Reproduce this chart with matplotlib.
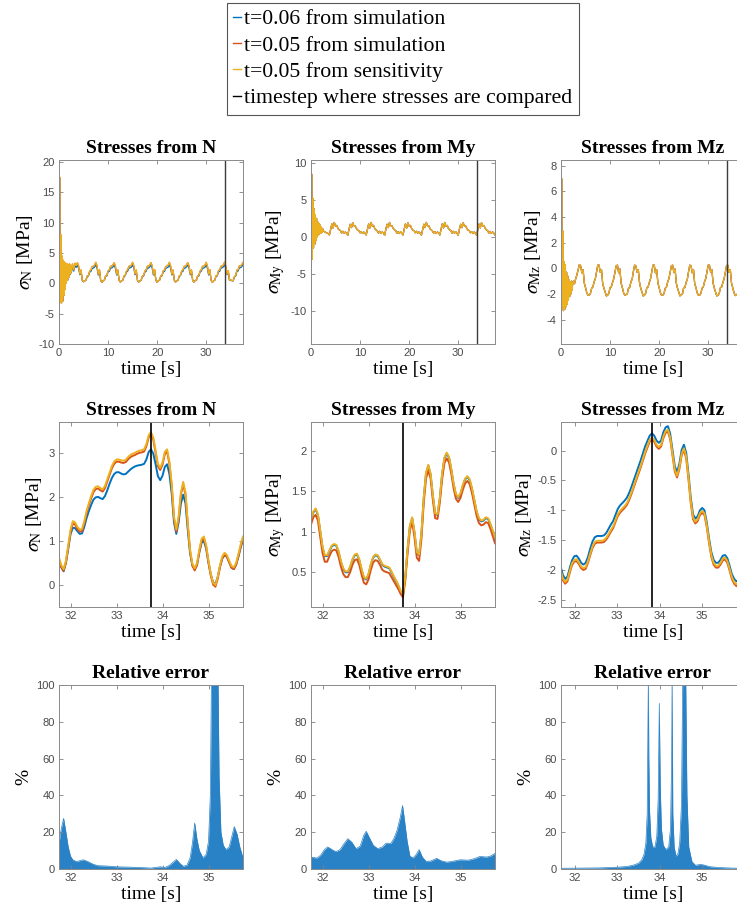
import numpy as np
import matplotlib.pyplot as plt
from matplotlib.lines import Line2D

plt.rcParams['mathtext.fontset'] = 'stix'
plt.rcParams['axes.unicode_minus'] = False

SERIF = 'Liberation Serif'
SANS = 'Liberation Sans'
BLUE = '#0072BD'
ORANGE = '#D95319'
YELLOW = '#EDB120'
BAR_BLUE = '#2a82c6'
T_CMP = 33.75     # timestep where stresses are compared (N, My)
T_CMP_MZ = 33.82

# ---------------- top row: whole simulation (0 .. 37.5 s) ----------------
t_top = np.concatenate([np.arange(0, 2.5, 0.125), np.arange(2.5, 37.51, 0.25)])

n_top_sens = [
    -10.0, 17.5, -3.0, 8.0, -3.3, 4.5, -3.0, 3.8, -2.0, 3.5,
    -1.0, 3.3, 0.0, 3.2, 0.5, 3.0, 1.0, 3.2, 1.5, 3.0,
    1.8, 3.2, 2.2, 3.3, 2.9,
    3.40, 2.85, 1.55, 2.20, 0.50, 0.25, 0.40, 0.55, 1.20, 1.30, 2.00, 2.20, 2.75, 2.80, 3.00,
    3.45, 2.90, 1.50, 2.25, 0.45, 0.15, 0.45, 0.50, 1.25, 1.30, 2.05, 2.20, 2.80, 2.80, 3.05,
    3.40, 2.85, 1.50, 2.20, 0.50, 0.20, 0.40, 0.50, 1.20, 1.35, 2.00, 2.25, 2.80, 2.85, 3.00,
    3.45, 2.90, 1.55, 2.20, 0.45, 0.20, 0.40, 0.55, 1.20, 1.30, 2.00, 2.20, 2.80, 2.80, 3.05,
    3.40, 2.85, 1.50, 2.25, 0.50, 0.15, 0.45, 0.50, 1.25, 1.30, 2.05, 2.20, 2.75, 2.85, 3.00,
    3.45, 2.90, 1.50, 2.20, 0.50, 0.20, 0.40, 0.50, 1.20, 1.35, 2.00, 2.20, 2.80, 2.80, 3.05,
    3.40, 2.90, 1.55, 2.20, 0.45, 0.20, 0.45, 0.55, 1.20, 1.30, 2.00, 2.25, 2.80, 2.80, 3.00,
    3.45, 2.85, 1.50, 2.25, 0.50, 0.15, 0.40, 0.50, 1.25, 1.30, 2.05, 2.20, 2.80, 2.85, 3.05,
    3.47, 2.78, 1.55, 2.10, 0.50, 0.55, 0.45, 0.43, 1.10, 1.27, 2.16, 2.25, 2.85, 2.90, 3.05,
    3.45,
]
n_top_sim06 = [
    -9.8, 17.3, -2.9, 7.8, -3.2, 4.2, -2.9, 3.5, -1.9, 3.2,
    -1.0, 3.0, 0.0, 2.9, 0.5, 2.8, 1.0, 2.9, 1.4, 2.8,
    1.7, 2.9, 2.0, 2.9, 2.6,
    3.00, 2.45, 1.40, 1.95, 0.45, 0.25, 0.40, 0.50, 1.10, 1.20, 1.85, 1.95, 2.45, 2.50, 2.65,
    3.05, 2.50, 1.35, 2.00, 0.45, 0.15, 0.45, 0.50, 1.15, 1.20, 1.90, 1.95, 2.50, 2.50, 2.70,
    3.00, 2.45, 1.35, 1.95, 0.50, 0.20, 0.40, 0.50, 1.10, 1.25, 1.85, 2.00, 2.50, 2.55, 2.65,
    3.05, 2.50, 1.40, 1.95, 0.45, 0.20, 0.40, 0.50, 1.10, 1.20, 1.85, 1.95, 2.50, 2.50, 2.70,
    3.00, 2.45, 1.35, 2.00, 0.50, 0.15, 0.45, 0.50, 1.15, 1.20, 1.90, 1.95, 2.45, 2.55, 2.65,
    3.05, 2.50, 1.35, 1.95, 0.50, 0.20, 0.40, 0.50, 1.10, 1.25, 1.85, 1.95, 2.50, 2.50, 2.70,
    3.00, 2.50, 1.40, 1.95, 0.45, 0.20, 0.45, 0.50, 1.10, 1.20, 1.85, 2.00, 2.50, 2.50, 2.65,
    3.05, 2.45, 1.35, 2.00, 0.50, 0.15, 0.40, 0.50, 1.15, 1.20, 1.90, 1.95, 2.50, 2.55, 2.70,
    3.08, 2.48, 1.42, 1.85, 0.46, 0.50, 0.42, 0.40, 1.03, 1.17, 1.94, 2.02, 2.56, 2.57, 2.72,
    3.08,
]
my_top_sens = [
    -12.0, 8.5, -3.0, 5.2, -1.5, 3.8, -1.0, 3.0, -0.5, 2.5,
    0.0, 2.0, 0.2, 1.8, 0.4, 1.6, 0.5, 1.3, 0.6, 1.1,
    0.8, 0.7, 0.6, 0.5, 0.45,
    0.25, 1.00, 1.75, 1.20, 1.95, 1.45, 1.55, 1.15, 0.95, 0.85, 0.50, 0.75, 0.50, 0.65, 0.50,
    0.23, 1.05, 1.70, 1.25, 1.90, 1.50, 1.50, 1.15, 0.90, 0.85, 0.55, 0.70, 0.45, 0.65, 0.50,
    0.25, 1.00, 1.75, 1.20, 1.95, 1.45, 1.55, 1.10, 0.95, 0.80, 0.50, 0.75, 0.50, 0.65, 0.55,
    0.20, 1.00, 1.70, 1.25, 1.95, 1.50, 1.50, 1.15, 0.95, 0.85, 0.50, 0.70, 0.45, 0.70, 0.50,
    0.25, 1.05, 1.75, 1.20, 1.90, 1.45, 1.55, 1.15, 0.90, 0.85, 0.55, 0.75, 0.50, 0.65, 0.50,
    0.23, 1.00, 1.70, 1.25, 1.95, 1.50, 1.50, 1.10, 0.95, 0.80, 0.50, 0.70, 0.45, 0.65, 0.55,
    0.25, 1.00, 1.75, 1.20, 1.95, 1.45, 1.55, 1.15, 0.95, 0.85, 0.50, 0.75, 0.50, 0.70, 0.50,
    0.20, 1.05, 1.70, 1.25, 1.90, 1.50, 1.50, 1.15, 0.90, 0.85, 0.55, 0.70, 0.45, 0.65, 0.50,
    0.23, 1.00, 1.73, 1.22, 1.93, 1.48, 1.54, 1.15, 0.93, 0.85, 0.51, 0.73, 0.48, 0.66, 0.51,
    0.25,
]
mz_top_sens = [
    -4.8, 7.0, -3.0, 2.9, -3.3, 0.5, -3.2, 0.3, -3.0, -0.3,
    -2.8, -0.6, -2.5, -0.9, -2.2, -1.1, -2.0, -1.0, -1.7, -1.2,
    -1.0, -1.2, -0.8, -0.5, -0.1,
    0.30, 0.20, -0.35, -0.10, -1.15, -1.50, -1.90, -2.10, -2.10, -1.95, -1.55, -1.45, -1.05, -0.80, -0.25,
    0.25, 0.25, -0.30, -0.10, -1.20, -1.55, -1.85, -2.15, -2.10, -1.95, -1.50, -1.45, -1.10, -0.80, -0.30,
    0.20, 0.25, -0.35, -0.05, -1.15, -1.50, -1.90, -2.10, -2.05, -2.00, -1.55, -1.50, -1.05, -0.85, -0.25,
    0.25, 0.20, -0.30, -0.10, -1.10, -1.55, -1.85, -2.15, -2.10, -1.95, -1.50, -1.45, -1.10, -0.80, -0.25,
    0.25, 0.25, -0.35, -0.10, -1.15, -1.50, -1.90, -2.10, -2.10, -1.95, -1.55, -1.45, -1.05, -0.80, -0.30,
    0.20, 0.25, -0.30, -0.05, -1.15, -1.55, -1.85, -2.15, -2.05, -2.00, -1.50, -1.50, -1.10, -0.85, -0.25,
    0.25, 0.20, -0.35, -0.10, -1.20, -1.50, -1.90, -2.10, -2.10, -1.95, -1.55, -1.45, -1.05, -0.80, -0.25,
    0.25, 0.25, -0.30, -0.10, -1.15, -1.55, -1.85, -2.15, -2.10, -1.95, -1.50, -1.45, -1.10, -0.80, -0.30,
    0.22, 0.24, -0.32, -0.10, -1.15, -1.52, -1.88, -2.12, -2.10, -1.97, -1.53, -1.46, -1.07, -0.80, -0.26,
    0.25,
]

# ---------------- middle row: zoom around the compared timestep ----------------
t_mid = np.arange(31.75, 35.751, 0.05)
t_mid_mz = np.linspace(31.66, 35.98, 81)

n_sim06 = [
    0.58, 0.40, 0.31, 0.50, 0.82, 1.15, 1.30, 1.29, 1.22, 1.16,
    1.17, 1.32, 1.52, 1.68, 1.82, 1.94, 1.99, 2.00, 1.97, 1.95,
    2.02, 2.15, 2.30, 2.43, 2.52, 2.56, 2.56, 2.53, 2.51, 2.52,
    2.57, 2.62, 2.66, 2.69, 2.71, 2.72, 2.73, 2.75, 2.85, 3.02,
    3.08, 2.98, 2.74, 2.47, 2.38, 2.48, 2.68, 2.74, 2.52, 2.08,
    1.42, 1.16, 1.42, 1.85, 2.05, 1.85, 1.25, 0.72, 0.44, 0.36,
    0.46, 0.74, 0.96, 1.00, 0.82, 0.50, 0.24, 0.06, 0.02, 0.18,
    0.42, 0.60, 0.68, 0.64, 0.52, 0.40, 0.36, 0.46, 0.64, 0.85,
    1.03,
]
n_sim05 = [
    0.58, 0.41, 0.32, 0.51, 0.85, 1.20, 1.40, 1.37, 1.27, 1.21,
    1.22, 1.40, 1.63, 1.81, 1.97, 2.11, 2.18, 2.19, 2.15, 2.12,
    2.20, 2.35, 2.50, 2.65, 2.75, 2.80, 2.80, 2.78, 2.77, 2.79,
    2.85, 2.90, 2.93, 2.95, 2.98, 3.00, 3.01, 3.03, 3.15, 3.35,
    3.43, 3.30, 3.00, 2.70, 2.61, 2.73, 2.97, 3.03, 2.75, 2.25,
    1.50, 1.21, 1.50, 2.05, 2.29, 2.05, 1.35, 0.76, 0.44, 0.33,
    0.45, 0.75, 1.00, 1.06, 0.86, 0.51, 0.21, 0.01, -0.04, 0.14,
    0.41, 0.61, 0.69, 0.64, 0.51, 0.39, 0.36, 0.46, 0.66, 0.88,
    1.06,
]
n_sens05 = [
    0.62, 0.45, 0.36, 0.55, 0.89, 1.25, 1.45, 1.42, 1.32, 1.26,
    1.27, 1.45, 1.68, 1.86, 2.02, 2.16, 2.23, 2.24, 2.20, 2.17,
    2.25, 2.40, 2.55, 2.70, 2.80, 2.85, 2.85, 2.83, 2.82, 2.84,
    2.90, 2.95, 2.98, 3.00, 3.03, 3.05, 3.06, 3.08, 3.20, 3.40,
    3.47, 3.35, 3.05, 2.75, 2.66, 2.78, 3.02, 3.08, 2.80, 2.30,
    1.55, 1.26, 1.55, 2.10, 2.34, 2.10, 1.40, 0.80, 0.48, 0.38,
    0.50, 0.80, 1.05, 1.10, 0.90, 0.55, 0.25, 0.05, 0.00, 0.18,
    0.45, 0.65, 0.73, 0.68, 0.55, 0.43, 0.40, 0.50, 0.70, 0.92,
    1.10,
]

my_sim06 = [
    1.15, 1.24, 1.28, 1.21, 1.01, 0.81, 0.70, 0.70, 0.76, 0.82,
    0.84, 0.83, 0.75, 0.63, 0.54, 0.50, 0.50, 0.56, 0.65, 0.71,
    0.72, 0.65, 0.53, 0.43, 0.41, 0.47, 0.59, 0.68, 0.71, 0.70,
    0.65, 0.59, 0.57, 0.56, 0.55, 0.50, 0.44, 0.39, 0.33, 0.26,
    0.22, 0.44, 0.79, 1.07, 1.17, 0.99, 0.74, 0.71, 0.97, 1.41,
    1.72, 1.82, 1.71, 1.44, 1.22, 1.21, 1.41, 1.71, 1.91, 1.97,
    1.92, 1.77, 1.59, 1.46, 1.42, 1.47, 1.57, 1.65, 1.68, 1.64,
    1.53, 1.39, 1.25, 1.16, 1.13, 1.14, 1.17, 1.16, 1.09, 1.01,
    0.92,
]
my_sim05 = [
    1.09, 1.18, 1.21, 1.14, 0.94, 0.74, 0.63, 0.63, 0.70, 0.76,
    0.78, 0.77, 0.69, 0.57, 0.48, 0.44, 0.44, 0.50, 0.59, 0.65,
    0.66, 0.59, 0.47, 0.37, 0.35, 0.41, 0.53, 0.62, 0.65, 0.64,
    0.59, 0.53, 0.51, 0.50, 0.49, 0.44, 0.39, 0.34, 0.29, 0.23,
    0.19, 0.40, 0.74, 1.02, 1.12, 0.93, 0.68, 0.64, 0.91, 1.35,
    1.66, 1.76, 1.66, 1.39, 1.17, 1.16, 1.36, 1.65, 1.85, 1.91,
    1.86, 1.72, 1.54, 1.41, 1.37, 1.42, 1.52, 1.60, 1.63, 1.59,
    1.48, 1.34, 1.20, 1.11, 1.08, 1.09, 1.12, 1.11, 1.04, 0.95,
    0.86,
]
my_sens05 = [
    1.16, 1.25, 1.29, 1.22, 1.02, 0.82, 0.71, 0.71, 0.77, 0.83,
    0.85, 0.84, 0.76, 0.64, 0.55, 0.51, 0.51, 0.57, 0.66, 0.72,
    0.73, 0.66, 0.54, 0.44, 0.42, 0.48, 0.60, 0.69, 0.72, 0.71,
    0.66, 0.60, 0.58, 0.57, 0.56, 0.51, 0.45, 0.40, 0.34, 0.27,
    0.23, 0.45, 0.80, 1.08, 1.18, 1.00, 0.75, 0.72, 0.98, 1.42,
    1.73, 1.83, 1.72, 1.45, 1.23, 1.22, 1.42, 1.72, 1.92, 1.98,
    1.93, 1.78, 1.60, 1.47, 1.43, 1.48, 1.58, 1.66, 1.69, 1.65,
    1.54, 1.40, 1.26, 1.17, 1.14, 1.15, 1.18, 1.17, 1.10, 1.02,
    0.93,
]

mz_sim06 = [
    -1.94, -2.08, -2.15, -2.11, -1.97, -1.84, -1.77, -1.76, -1.81, -1.88,
    -1.91, -1.88, -1.78, -1.64, -1.52, -1.45, -1.43, -1.43, -1.43, -1.42,
    -1.38, -1.31, -1.24, -1.18, -1.08, -0.98, -0.92, -0.88, -0.84, -0.79,
    -0.71, -0.61, -0.50, -0.39, -0.28, -0.17, -0.05, 0.07, 0.16, 0.25,
    0.29, 0.25, 0.17, 0.13, 0.17, 0.31, 0.39, 0.41, 0.28, 0.01,
    -0.26, -0.36, -0.22, 0.01, 0.10, -0.04, -0.39, -0.79, -1.07, -1.14,
    -1.10, -1.00, -0.96, -1.00, -1.20, -1.47, -1.70, -1.83, -1.88, -1.88,
    -1.83, -1.76, -1.75, -1.80, -1.93, -2.07, -2.15, -2.19, -2.17, -2.13,
    -2.07,
]
mz_sim05 = [
    -2.03, -2.17, -2.23, -2.19, -2.05, -1.92, -1.86, -1.85, -1.90, -1.97,
    -2.00, -1.98, -1.88, -1.75, -1.63, -1.56, -1.54, -1.54, -1.54, -1.53,
    -1.49, -1.43, -1.36, -1.30, -1.20, -1.10, -1.04, -1.00, -0.96, -0.91,
    -0.83, -0.73, -0.62, -0.51, -0.40, -0.29, -0.17, -0.05, 0.05, 0.15,
    0.19, 0.15, 0.07, 0.03, 0.07, 0.21, 0.30, 0.32, 0.19, -0.08,
    -0.35, -0.45, -0.31, -0.08, 0.01, -0.13, -0.48, -0.88, -1.15, -1.22,
    -1.18, -1.08, -1.04, -1.08, -1.28, -1.55, -1.78, -1.91, -1.96, -1.96,
    -1.91, -1.84, -1.82, -1.88, -2.01, -2.15, -2.23, -2.27, -2.25, -2.21,
    -2.15,
]
mz_sens05 = [
    -2.00, -2.14, -2.20, -2.16, -2.02, -1.89, -1.83, -1.82, -1.87, -1.94,
    -1.97, -1.95, -1.85, -1.72, -1.60, -1.53, -1.51, -1.51, -1.51, -1.50,
    -1.46, -1.40, -1.33, -1.27, -1.17, -1.07, -1.01, -0.97, -0.93, -0.88,
    -0.80, -0.70, -0.59, -0.48, -0.37, -0.26, -0.14, -0.02, 0.08, 0.18,
    0.22, 0.18, 0.10, 0.06, 0.10, 0.24, 0.33, 0.35, 0.22, -0.05,
    -0.32, -0.42, -0.28, -0.05, 0.04, -0.10, -0.45, -0.85, -1.12, -1.19,
    -1.15, -1.05, -1.01, -1.05, -1.25, -1.52, -1.75, -1.88, -1.93, -1.93,
    -1.88, -1.81, -1.79, -1.85, -1.98, -2.12, -2.20, -2.24, -2.22, -2.18,
    -2.12,
]

# ---------------- bottom row: relative error [%] ----------------
t_err_n = [31.75, 31.80, 31.85, 31.90, 31.95, 32.00, 32.05, 32.13, 32.20, 32.28,
           32.38, 32.50, 32.60, 32.80, 33.00, 33.30, 33.60, 33.75, 33.95, 34.05,
           34.15, 34.22, 34.30, 34.38, 34.45, 34.53, 34.60, 34.65, 34.70, 34.75,
           34.80, 34.88, 34.95, 35.00, 35.04, 35.07, 35.10, 35.15, 35.20, 35.23,
           35.27, 35.32, 35.38, 35.45, 35.50, 35.56, 35.62, 35.68, 35.75]
err_n = [14, 22, 27.5, 20, 12, 7, 5, 4, 4.5, 5,
         4, 2.5, 1.8, 1.6, 1.2, 1.0, 0.7, 0.5, 1.2, 0.8,
         2, 3.5, 5.2, 3, 1.5, 2, 6, 14, 25, 16,
         10, 6, 8, 15, 40, 120, 160, 160, 120, 50,
         20, 13, 10.5, 12, 17, 23, 19, 12, 6]

t_err_my = [31.75, 31.80, 31.88, 31.96, 32.04, 32.11, 32.18, 32.24, 32.30, 32.38,
            32.46, 32.55, 32.64, 32.73, 32.82, 32.90, 32.95, 33.02, 33.10, 33.20,
            33.30, 33.38, 33.49, 33.56, 33.62, 33.69, 33.74, 33.78, 33.84, 33.90,
            33.97, 34.04, 34.10, 34.17, 34.25, 34.35, 34.48, 34.58, 34.70, 34.85,
            34.99, 35.17, 35.30, 35.42, 35.57, 35.65, 35.75]
err_my = [6.5, 6.2, 6.0, 7.5, 10.5, 12, 11, 10, 9.5, 10.5,
          13.5, 16.5, 14.5, 11, 12.5, 18.5, 20.5, 17, 13, 11,
          12, 14, 14, 17, 21, 28, 34.5, 27, 15, 7,
          6, 8, 10.5, 6.5, 4.2, 4.3, 5.8, 4.5, 3.7, 4.3,
          5, 4.8, 5.6, 6.8, 6.5, 7.0, 8.5]

t_err_mz = [31.67, 32.155, 32.59, 33.02, 33.234, 33.396, 33.504, 33.579, 33.633, 33.676,
            33.708, 33.724, 33.735, 33.746, 33.762, 33.794, 33.838, 33.892, 33.935, 33.967,
            33.994, 34.016, 34.043, 34.086, 34.151, 34.216, 34.259, 34.286, 34.297, 34.313,
            34.345, 34.388, 34.431, 34.475, 34.518, 34.550, 34.583, 34.615, 34.647, 34.690,
            34.765, 34.851, 34.959, 35.045, 35.175, 35.390, 35.714, 35.984]
err_mz = [0.4, 0.5, 0.6, 1.0, 1.4, 2.2, 3.2, 5, 8, 14,
          30, 75, 105, 60, 32, 17, 12, 12, 18, 38,
          90, 45, 22, 13, 10.5, 12, 22, 60, 105, 30,
          12, 7, 8, 14, 35, 110, 120, 110, 40, 12,
          4, 2, 2.5, 2.2, 1.3, 0.8, 0.5, 0.4]

legend_labels = ['t=0.06 from simulation', 't=0.05 from simulation',
                 't=0.05 from sensitivity', 'timestep where stresses are compared']


W, H = 737, 914
col_left = [59, 311, 561]
ax_w = 184
row_px = [(160, 344), (422, 607), (685, 869)]


def make_ax(fig, row, col):
    top, bot = row_px[row]
    return fig.add_axes([col_left[col] / W, 1 - bot / H, ax_w / W, (bot - top) / H])


def style(ax, title, ylabel, xlim, ylim, xticks, yticks, yticklabels=None):
    ax.set_xlim(*xlim)
    ax.set_ylim(*ylim)
    ax.set_xticks(xticks)
    ax.set_yticks(yticks)
    if yticklabels is not None:
        ax.set_yticklabels(yticklabels)
    ax.set_title(title, fontfamily=SERIF, fontweight='bold', fontsize=14, pad=5)
    ax.set_xlabel('time [s]', fontfamily=SERIF, fontsize=14, labelpad=2)
    ax.set_ylabel(ylabel, fontfamily=SERIF, fontsize=14, labelpad=3)
    ax.tick_params(direction='in', top=True, right=True, length=3, width=0.6,
                   color='#808080', labelcolor='#4a4a4a', labelsize=8, pad=3)
    for lab in ax.get_xticklabels() + ax.get_yticklabels():
        lab.set_fontfamily(SANS)
    for sp in ax.spines.values():
        sp.set_color('#8a8a8a')
        sp.set_linewidth(0.7)


fig = plt.figure(figsize=(W / 100, H / 100), dpi=100)

ylabels = [r'$\sigma_{\mathrm{N}}$ [MPa]', r'$\sigma_{\mathrm{My}}$ [MPa]', r'$\sigma_{\mathrm{Mz}}$ [MPa]']
titles = ['Stresses from N', 'Stresses from My', 'Stresses from Mz']

# top row
top_data = [(n_top_sim06, n_top_sens, n_top_sens),
            (my_top_sens, my_top_sens, my_top_sens),
            (mz_top_sens, mz_top_sens, mz_top_sens)]
top_ylim = [(-10, 20.3), (-14.5, 10.4), (-5.9, 8.45)]
top_yticks = [np.arange(-10, 21, 5), np.arange(-10, 11, 5), np.arange(-4, 9, 2)]
for c in range(3):
    ax = make_ax(fig, 0, c)
    for vals, col in zip(top_data[c], [BLUE, ORANGE, YELLOW]):
        ax.plot(t_top, vals, color=col, lw=0.9)
    ax.axvline(T_CMP, color='#3c3c3c', lw=1.0)
    style(ax, titles[c], ylabels[c], (0, 37.5), top_ylim[c], [0, 10, 20, 30], top_yticks[c])

# middle row
mid_data = [(n_sim06, n_sim05, n_sens05),
            (my_sim06, my_sim05, my_sens05),
            (mz_sim06, mz_sim05, mz_sens05)]
mid_t = [t_mid, t_mid, t_mid_mz]
zoom_xlim = [(31.75, 35.75), (31.75, 35.75), (31.67, 36.02)]
zoom_tcmp = [T_CMP, T_CMP, T_CMP_MZ]
mid_ylim = [(-0.5, 3.7), (0.07, 2.36), (-2.62, 0.48)]
mid_yticks = [[0, 1, 2, 3], [0.5, 1, 1.5, 2], [-2.5, -2, -1.5, -1, -0.5, 0]]
mid_yticklabels = [['0', '1', '2', '3'], ['0.5', '1', '1.5', '2'],
                   ['-2.5', '-2', '-1.5', '-1', '-0.5', '0']]
for c in range(3):
    ax = make_ax(fig, 1, c)
    for vals, col in zip(mid_data[c], [BLUE, ORANGE, YELLOW]):
        ax.plot(mid_t[c], vals, color=col, lw=1.4)
    ax.axvline(zoom_tcmp[c], color='k', lw=1.2)
    style(ax, titles[c], ylabels[c], zoom_xlim[c], mid_ylim[c], [32, 33, 34, 35],
          mid_yticks[c], mid_yticklabels[c])

# bottom row
err_data = [(t_err_n, err_n), (t_err_my, err_my), (t_err_mz, err_mz)]
for c in range(3):
    ax = make_ax(fig, 2, c)
    t_e, v_e = err_data[c]
    ax.fill_between(t_e, 0, v_e, color=BAR_BLUE, lw=0)
    ax.plot(t_e, v_e, color=BAR_BLUE, lw=0.5)
    style(ax, 'Relative error', '%', zoom_xlim[c], (0, 100), [32, 33, 34, 35],
          np.arange(0, 101, 20))

# legend
handles = [Line2D([], [], color=BLUE, lw=1.0), Line2D([], [], color=ORANGE, lw=1.0),
           Line2D([], [], color=YELLOW, lw=1.0), Line2D([], [], color='k', lw=1.0)]
leg = fig.legend(handles, legend_labels, loc='upper center', bbox_to_anchor=(403 / W, 1 - 3 / H),
                 prop={'family': SERIF, 'size': 15.7}, handlelength=0.35, handletextpad=0.15,
                 borderpad=0.28, labelspacing=0.28, borderaxespad=0, frameon=True,
                 fancybox=False, framealpha=1, edgecolor='#555555')
leg.get_frame().set_linewidth(0.8)

fig.savefig('out.png', dpi=100)
